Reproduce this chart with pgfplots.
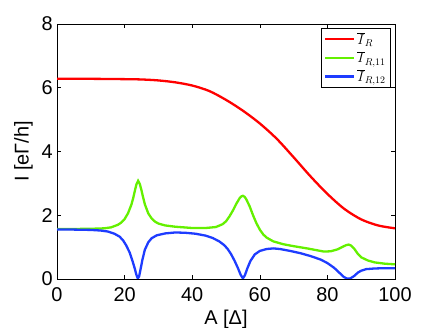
\documentclass[border=0pt]{standalone}
\usepackage{fontspec}
\setmainfont{Liberation Sans}
\usepackage{pgfplots}
\pgfplotsset{compat=1.18}

\definecolor{cred}{RGB}{255,0,0}
\definecolor{cgreen}{RGB}{100,240,0}
\definecolor{cblue}{RGB}{30,60,255}

\begin{document}
\begin{tikzpicture}
  \useasboundingbox (-57bp,-49bp) rectangle (379bp,279bp);
  \begin{axis}[
      at={(0,0)}, anchor=south west,
      scale only axis, width=338bp, height=255bp,
      xmin=0, xmax=100, ymin=0, ymax=8,
      xtick={0,20,...,100}, ytick={0,2,...,8},
      tick align=inside, tick pos=both,
      major tick length=4bp,
      axis line style={line width=0.6bp},
      every tick/.style={black, line width=0.6bp},
      font=\fontsize{20}{24}\selectfont,
      /pgf/number format/assume math mode=true,
      yticklabel style={inner sep=0pt, xshift=-4bp},
      xticklabel style={inner sep=0pt, yshift=-8bp},
      xlabel={A [Δ]}, ylabel={I [eΓ/h]},
      xlabel style={at={(axis description cs:0.5,0)}, anchor=base, inner sep=0pt, yshift=-45bp},
      ylabel style={at={(axis description cs:-0.071,0.5)}, anchor=south, inner sep=0pt},
      legend cell align=left,
      legend style={at={(axis description cs:0.988,0.984)}, anchor=north east,
        font=\fontsize{14.5}{16}\selectfont, draw=black, line width=0.6bp,
        inner xsep=3bp, inner ysep=2bp, row sep=1.5bp},
      legend image code/.code={\draw[#1] (0bp,0bp) -- (29bp,0bp);},
      legend image post style={line width=2.3bp},
    ]
    % red: total
    \addplot[cred, line width=2.3bp, smooth] coordinates {
      (0,6.28) (10,6.28) (20,6.27) (25,6.26) (30,6.23) (35,6.17) (40,6.07)
      (45,5.90) (50,5.62) (55,5.28) (60,4.88) (65,4.40) (70,3.82) (75,3.22)
      (80,2.67) (85,2.20) (90,1.87) (95,1.68) (100,1.59)
    };
    \addlegendentry{$\overline{I}_{R}$}
    % green
    \addplot[cgreen, line width=2.3bp] coordinates {
      (0,1.57) (5,1.57) (10,1.575) (14,1.59) (16,1.62) (18,1.70) (19,1.77)
      (20,1.88) (21,2.06) (22,2.33) (22.5,2.52) (23,2.75) (23.5,2.97) (24,3.08)
      (24.5,2.98) (25,2.78) (25.5,2.55) (26,2.34) (27,2.06) (28,1.90) (29,1.80)
      (30,1.74) (32,1.68) (35,1.64) (40,1.60) (44,1.60) (47,1.63) (49,1.72)
      (50,1.81) (51,1.96) (52,2.14) (53,2.35) (54,2.53) (54.5,2.59) (55,2.61)
      (55.5,2.58) (56,2.50) (57,2.28) (58,2.00) (59,1.75) (60,1.55) (61,1.40)
      (62,1.30) (64,1.18) (67,1.09) (70,1.03) (74,0.96) (77,0.90) (79,0.86)
      (81,0.87) (83,0.93) (84.5,1.01) (85.5,1.06) (86.3,1.08) (87,1.05) (88,0.94)
      (89,0.79) (90,0.68) (92,0.58) (94,0.52) (97,0.48) (100,0.46)
    };
    \addlegendentry{$\overline{I}_{R,11}$}
    % blue
    \addplot[cblue, line width=2.3bp] coordinates {
      (0,1.55) (5,1.55) (10,1.54) (13,1.52) (15,1.49) (17,1.42) (18.5,1.33)
      (19.5,1.22) (20.5,1.05) (21.5,0.83) (22.3,0.58) (23,0.33) (23.5,0.13)
      (23.9,0.02) (24.3,0.08) (24.8,0.35) (25.3,0.62) (26,0.92) (27,1.15)
      (28,1.28) (29.5,1.37) (32,1.43) (35,1.46) (38,1.45) (41,1.42) (44,1.36)
      (46,1.29) (48,1.18) (49.5,1.06) (50.5,0.94) (51.5,0.78) (52.5,0.58)
      (53.5,0.35) (54.3,0.14) (55,0.02) (55.6,0.12) (56.3,0.33) (57.2,0.56)
      (58.5,0.77) (60,0.88) (62,0.94) (64,0.96) (66,0.94) (69,0.88) (72,0.81)
      (75,0.72) (78,0.61) (80,0.50) (82,0.35) (83.5,0.20) (84.8,0.07) (85.8,0.01)
      (86.8,0.02) (88,0.10) (89,0.20) (90,0.26) (91.5,0.31) (94,0.33) (97,0.34)
      (100,0.34)
    };
    \addlegendentry{$\overline{I}_{R,12}$}
  \end{axis}
\end{tikzpicture}
\end{document}
